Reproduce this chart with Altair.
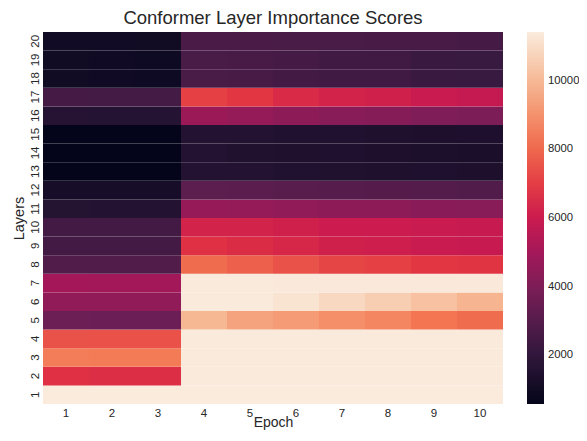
import altair as alt
import pandas as pd

epochs = list(range(1, 11))
layers = list(range(1, 21))

# scores[layer-1][epoch-1]
scores = [
    [11430, 11430, 11430, 11430, 11430, 11430, 11430, 11430, 11430, 11430],  # 1
    [6700, 6600, 6600, 11400, 11400, 11400, 11400, 11400, 11400, 11400],     # 2
    [8500, 8480, 8480, 11400, 11400, 11400, 11400, 11400, 11400, 11400],     # 3
    [7500, 7480, 7480, 11400, 11400, 11400, 11400, 11400, 11400, 11400],     # 4
    [3560, 3540, 3540, 9950, 9450, 9250, 8950, 8750, 8300, 8100],            # 5
    [4500, 4480, 4480, 11400, 11400, 11200, 10900, 10600, 10250, 9900],      # 6
    [5000, 4980, 4980, 11400, 11400, 11380, 11380, 11380, 11380, 11380],     # 7
    [2880, 2860, 2860, 8100, 7850, 7500, 7200, 7100, 6850, 6800],            # 8
    [2500, 2480, 2480, 6700, 6550, 6400, 6150, 6100, 5950, 5900],            # 9
    [2500, 2480, 2480, 6250, 6250, 6150, 6000, 6000, 5950, 5900],            # 10
    [1620, 1600, 1600, 4650, 4600, 4500, 4400, 4400, 4300, 4250],            # 11
    [1200, 1180, 1180, 3150, 3100, 3050, 3000, 2950, 2900, 2850],            # 12
    [600, 590, 590, 1600, 1550, 1500, 1480, 1450, 1420, 1400],               # 13
    [600, 590, 590, 1550, 1480, 1450, 1420, 1400, 1330, 1300],               # 14
    [600, 590, 590, 1600, 1550, 1500, 1500, 1450, 1400, 1380],               # 15
    [1650, 1630, 1630, 4800, 4600, 4390, 4260, 4200, 4030, 3980],            # 16
    [2530, 2510, 2510, 7100, 6850, 6500, 6250, 6150, 5950, 5850],            # 17
    [1000, 980, 950, 2650, 2600, 2500, 2450, 2400, 2250, 2200],              # 18
    [1000, 980, 950, 2650, 2600, 2550, 2450, 2400, 2250, 2200],              # 19
    [1050, 1050, 1000, 2700, 2700, 2650, 2650, 2600, 2600, 2550],            # 20
]

colorbar_ticks = [2000, 4000, 6000, 8000, 10000]
vmin, vmax = 570, 11430
rocket_pos = [0, 1 / 7, 2 / 7, 3 / 7, 0.5, 4 / 7, 5 / 7, 6 / 7, 1]
rocket = ["#03051a", "#35193e", "#701f57", "#ad1759", "#cb1b4f",
          "#e13342", "#f37651", "#f6b48f", "#faebdd"]
domain = [vmin + p * (vmax - vmin) for p in rocket_pos]

rows = []
for li, layer in enumerate(layers):
    for ei, ep in enumerate(epochs):
        rows.append({"Epoch": ep, "Layer": layer, "score": scores[li][ei]})
df = pd.DataFrame(rows)

txt = "#262626"
font = "Liberation Sans"
tick_fs = 11.5
W, H = 460, 372

cscale = alt.Scale(domain=domain, range=rocket, interpolate="rgb", nice=False, zero=False)

chart = alt.Chart(df).mark_rect().encode(
    x=alt.X("Epoch:O", title="Epoch",
            scale=alt.Scale(paddingInner=0, paddingOuter=0),
            axis=alt.Axis(labelAngle=0, ticks=False, domain=False, labelPadding=3,
                          titlePadding=-3, labelFontSize=tick_fs, titleFontSize=14,
                          labelColor=txt, titleColor=txt, titleFontWeight="normal")),
    y=alt.Y("Layer:O", title="Layers", sort="descending",
            scale=alt.Scale(paddingInner=0, paddingOuter=0),
            axis=alt.Axis(labelAngle=-90, ticks=False, domain=False, labelPadding=3,
                          titlePadding=3, labelFontSize=tick_fs, titleFontSize=14.5,
                          labelColor=txt, titleColor=txt, titleFontWeight="normal")),
    color=alt.Color("score:Q", scale=cscale,
                    legend=alt.Legend(type="gradient", title=None, values=colorbar_ticks,
                                      format="d", gradientLength=H, gradientThickness=17,
                                      gradientStrokeWidth=0, offset=24, padding=0,
                                      labelFontSize=11.3, labelOffset=4, labelColor=txt,
                                      labelOverlap=False)),
).properties(
    width=W, height=H,
    title=alt.Title("Conformer Layer Importance Scores", fontSize=18.5, color=txt,
                    fontWeight="normal", frame="group", anchor="middle", offset=5),
    padding={"left": 35, "top": 24, "right": 76, "bottom": 29},
    autosize=alt.AutoSizeParams(type="none"),
).configure(font=font).configure_view(stroke=None)

chart.save("out.html", embed_options={"renderer": "svg", "actions": False})
